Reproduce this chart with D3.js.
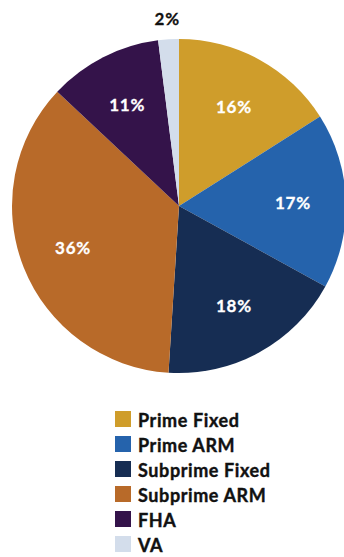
<!DOCTYPE html>
<html>
<head>
<meta charset="utf-8">
<script src="https://cdn.jsdelivr.net/npm/d3@7"></script>
<style>
  html, body { margin: 0; padding: 0; background: #fff; }
  svg { display: block; }
</style>
</head>
<body>
<svg id="chart" width="344" height="557"></svg>
<script>
// Mortgage share by loan type
const categories = ["Prime Fixed", "Prime ARM", "Subprime Fixed", "Subprime ARM", "FHA", "VA"];
const shares = [16, 17, 18, 36, 11, 2];
const colors = ["#CF9D2B", "#2563AC", "#162D53", "#B86A29", "#34134A", "#D3DDEB"];

const svg = d3.select("#chart");
const cx = 179, cy = 206, radius = 167;
const fontFamily = "'Lato', 'Open Sans', sans-serif";

const data = categories.map((c, i) => ({ name: c, value: shares[i], color: colors[i] }));

const pie = d3.pie().value(d => d.value).sort(null);
const arcs = pie(data);
const arc = d3.arc().innerRadius(0).outerRadius(radius);
const labelArc = d3.arc().innerRadius(114).outerRadius(114);
const outerLabelArc = d3.arc().innerRadius(188).outerRadius(188);

const g = svg.append("g").attr("transform", `translate(${cx},${cy})`);

g.selectAll("path.slice")
  .data(arcs)
  .join("path")
  .attr("class", "slice")
  .attr("d", arc)
  .attr("fill", d => d.data.color);

// Value labels: inside for larger slices, above the pie for the small one
g.selectAll("text.value")
  .data(arcs)
  .join("text")
  .attr("class", "value")
  .attr("transform", d => {
    const p = d.data.value < 5 ? outerLabelArc.centroid(d) : labelArc.centroid(d);
    return `translate(${p[0]},${p[1]})`;
  })
  .attr("text-anchor", "middle")
  .attr("dominant-baseline", "central")
  .attr("font-family", fontFamily)
  .attr("font-weight", 700)
  .attr("font-size", 17)
  .attr("letter-spacing", 0.8)
  .attr("fill", d => d.data.value < 5 ? "#111" : "#fff")
  .attr("stroke", d => d.data.value < 5 ? "#111" : "#fff")
  .attr("stroke-width", 0.3)
  .text(d => d.data.value + "%");

// Legend
const legend = svg.append("g").attr("transform", "translate(115,411)");
const rowH = 25;
const rows = legend.selectAll("g.row")
  .data(data)
  .join("g")
  .attr("class", "row")
  .attr("transform", (d, i) => `translate(0,${i * rowH})`);

rows.append("rect")
  .attr("width", 16)
  .attr("height", 16)
  .attr("fill", d => d.color);

rows.append("text")
  .attr("x", 23)
  .attr("y", 9)
  .attr("dominant-baseline", "central")
  .attr("font-family", fontFamily)
  .attr("font-weight", 700)
  .attr("font-size", 18)
  .attr("letter-spacing", 0.6)
  .attr("fill", "#111")
  .attr("stroke", "#111")
  .attr("stroke-width", 0.4)
  .text(d => d.name);
</script>
</body>
</html>
